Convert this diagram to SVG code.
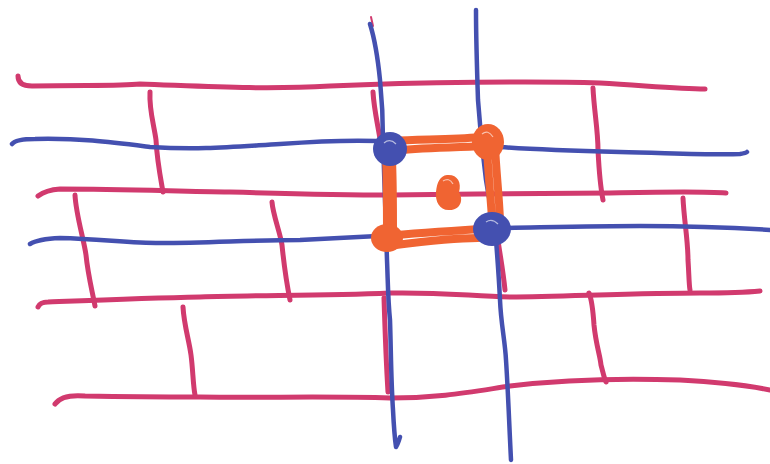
<svg xmlns="http://www.w3.org/2000/svg" width="770" height="464" viewBox="0 0 770 464">
<style>
.p{fill:none;stroke:#d13a6e;stroke-width:5;stroke-linecap:round;stroke-linejoin:round}
.b{fill:none;stroke:#4450b0;stroke-width:4.5;stroke-linecap:round;stroke-linejoin:round}
.o{fill:none;stroke:#f06432;stroke-width:8;stroke-linecap:round;stroke-linejoin:round}
.of{fill:#f06432}
.bf{fill:#4450b0}
.hl{fill:none;stroke:#ffffff;stroke-width:1.2;opacity:0.6}
</style>
<rect width="770" height="464" fill="#ffffff"/>
<g id="pink-rows">
<path class="p" d="M18,76 Q18,86 32,86 C90,85 120,86 140,84 C200,86 260,90 330,86 C420,82 540,81 600,83 C650,86 680,89 705,89"/>
<path class="p" d="M38,196 Q46,190 60,189 C120,189 170,191 230,192 C300,194 340,195 390,195 C460,194 560,193 610,193 C660,192 700,191 726,193"/>
<path class="p" d="M38,307 Q40,302 48,302 C100,300 150,298 200,297 C260,295 320,296 390,293 C440,292 470,296 510,297 C570,296 650,293 700,293 C730,293 750,292 760,291"/>
<path class="p" d="M55,404 Q62,394 85,396 C140,397 170,397 200,397 C260,398 330,396 390,398 C440,398 470,392 510,386 C560,380 620,378 680,380 C720,382 750,386 770,390"/>
</g>
<g id="pink-bricks">
<path class="p" d="M150,92 C149,110 154,125 156,140 C157,160 160,175 163,192"/>
<path class="p" d="M373,92 C374,110 378,125 381,145"/>
<path class="p" d="M593,88 C594,110 598,130 598,150 C599,170 600,185 603,200"/>
<path class="p" d="M75,195 C76,215 84,240 86,255 C88,275 92,290 95,306"/>
<path class="p" d="M272,202 C273,215 280,232 282,245 C284,265 287,285 290,300"/>
<path class="p" d="M498,240 C500,255 503,270 505,290"/>
<path class="p" d="M683,198 C684,220 688,240 688,260 C689,275 689,285 690,290"/>
<path class="p" d="M183,307 C184,325 189,340 191,355 C193,370 193,385 195,395"/>
<path class="p" d="M384,298 C385,330 386,360 388,392"/>
<path class="p" d="M589,293 C592,300 593,310 594,325 C596,345 600,355 601,365 C603,372 604,378 606,382"/>
<path class="p" style="stroke-width:2" d="M371,17 L373,26"/>
</g>
<g id="blue-lines">
<path class="b" d="M12,144 Q16,139 35,139 C80,138 110,142 150,147 C200,150 230,147 280,144 C320,141 350,140 378,141"/>
<path class="b" d="M500,147 C540,150 580,151 620,152 C670,153 710,155 740,154 Q746,153 747,152"/>
<path class="b" d="M30,244 Q38,239 60,238 C100,239 130,243 160,243 C210,243 250,240 300,240 C340,238 360,237 378,236"/>
<path class="b" d="M505,228 C560,227 600,226 640,226 C700,226 740,228 770,230"/>
<path class="b" d="M370,24 C375,40 378,60 380,80 C382,100 383,120 383,140 C384,180 386,220 387,260 C388,285 388,300 390,320 C391,350 391,380 393,410 C394,430 395,440 396,447 Q398,444 400,437"/>
<path class="b" d="M476,10 C476,40 477,70 478,100 C480,130 482,150 486,180 C490,205 494,220 496,240 C498,265 499,280 500,300 C501,325 505,340 506,360 C508,390 509,420 511,460"/>
</g>
<g id="orange-square">
<path class="o" d="M392,141 C420,139 450,140 480,137 M392,151 C420,147 455,148 484,146"/>
<path class="o" d="M487,148 C488,170 490,190 492,218 M495,145 C496,170 499,195 500,220"/>
<path class="o" d="M386,152 C387,180 387,205 387,238 M392,160 C393,185 393,210 393,232"/>
<path class="o" d="M383,236 C420,233 450,231 480,229 M388,246 C420,242 450,238 478,238"/>
<ellipse class="of" cx="488" cy="142" rx="16" ry="18"/>
<ellipse class="of" cx="387" cy="238" rx="16" ry="14"/>
<path class="of" d="M447,175 C457,174 462,182 459,192 C464,200 460,210 450,210 C440,211 435,202 436,192 C437,182 440,176 447,175 Z"/>
<ellipse class="bf" cx="390" cy="149" rx="17" ry="17"/>
<ellipse class="bf" cx="492" cy="229" rx="19" ry="17"/>
<path class="hl" d="M482,134 Q488,129 493,137 M443,181 Q449,177 453,184 M384,143 Q390,138 396,144 M486,222 Q492,218 498,224"/>
</g>
</svg>
